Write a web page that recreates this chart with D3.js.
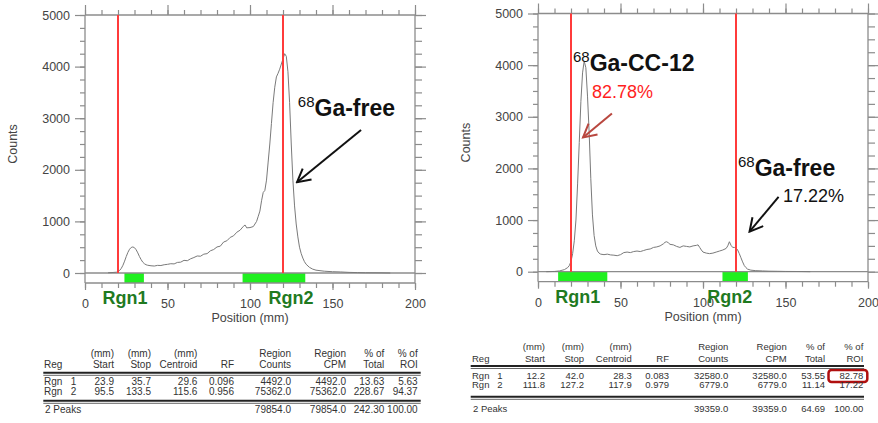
<!DOCTYPE html>
<html>
<head>
<meta charset="utf-8">
<script src="https://cdnjs.cloudflare.com/ajax/libs/d3/7.8.5/d3.min.js"></script>
<style>
body { margin: 0; background: #fff; }
svg text { font-family: "Liberation Sans", Arial, sans-serif; }
</style>
</head>
<body>
<div id="chart-area"></div>
<script>
// ---- data ----
var leftPos = [14, 17, 19, 20, 21, 22, 23, 24, 25, 26, 27, 28, 29, 30, 31, 32, 33, 34, 35, 36, 37, 38, 40, 42, 44, 46, 48, 50, 52, 54, 56, 58, 60, 62, 64, 66, 68, 70, 72, 74, 76, 78, 80, 82, 84, 86, 88, 90, 92, 94, 96, 97, 98, 100, 102, 104, 105, 106, 107, 108, 109, 110, 111, 112, 113, 114, 115, 116, 117, 118, 119, 120, 121, 122, 123, 124, 125, 126, 127, 128, 129, 130, 131, 132, 133, 134, 136, 138, 140, 145, 150, 155, 160, 165, 170, 180, 185];
var leftCounts = [5, 10, 15, 25, 50, 90, 150, 230, 320, 400, 460, 495, 505, 490, 450, 390, 320, 260, 210, 180, 160, 150, 140, 135, 148, 145, 160, 168, 180, 176, 205, 210, 245, 238, 275, 300, 330, 325, 365, 375, 430, 455, 505, 520, 600, 625, 690, 720, 790, 830, 905, 930, 875, 880, 900, 1000, 1100, 1200, 1400, 1560, 1600, 1800, 2150, 2500, 2900, 3300, 3600, 3800, 3870, 3950, 4050, 4150, 4250, 4200, 3900, 3300, 2500, 1800, 1300, 950, 700, 500, 380, 290, 220, 170, 110, 75, 55, 35, 25, 20, 12, 8, 5, 3, 0];

var rightPos = [5, 10, 13, 16, 18, 19, 20, 21, 22, 23, 24, 25, 26, 27, 28, 29, 30, 31, 32, 33, 34, 35, 36, 37, 38, 40, 42, 44, 46, 48, 50, 52, 54, 56, 58, 60, 62, 64, 66, 68, 70, 72, 74, 76, 77, 78, 79, 80, 82, 84, 86, 88, 90, 92, 94, 96, 97, 98, 99, 100, 102, 104, 106, 108, 110, 112, 114, 115, 116, 117, 118, 119, 120, 121, 122, 123, 124, 125, 126, 127, 129, 132, 136, 140, 145, 150, 160, 165];
var rightCounts = [0, 5, 15, 40, 80, 120, 200, 350, 600, 1000, 1700, 2500, 3300, 3850, 4080, 3950, 3400, 2700, 1800, 1100, 700, 500, 400, 360, 340, 330, 340, 325, 320, 310, 330, 370, 380, 370, 390, 400, 390, 410, 430, 440, 470, 480, 500, 540, 570, 580, 560, 530, 520, 490, 470, 500, 490, 480, 500, 510, 520, 470, 420, 380, 360, 350, 360, 380, 400, 420, 450, 500, 580, 510, 470, 470, 460, 420, 350, 270, 190, 120, 80, 50, 30, 20, 15, 10, 8, 5, 3, 0];

var markerLines = [20, 120];
var yTicks = [0, 1000, 2000, 3000, 4000, 5000];
var xTicks = [0, 50, 100, 150, 200];

var headTop = ["", "(mm)", "(mm)", "(mm)", "", "Region", "Region", "% of", "% of"];
var headBottom = ["Reg", "Start", "Stop", "Centroid", "RF", "Counts", "CPM", "Total", "ROI"];

var leftRows = [
    ["Rgn 1", 23.9, 35.7, 29.6, 0.096, 4492.0, 4492.0, 13.63, 5.63],
    ["Rgn 2", 95.5, 133.5, 115.6, 0.956, 75362.0, 75362.0, 228.67, 94.37]
];
var leftTotal = ["2 Peaks", null, null, null, null, 79854.0, 79854.0, 242.30, 100.00];

var rightRows = [
    ["Rgn 1", 12.2, 42.0, 28.3, 0.083, 32580.0, 32580.0, 53.55, 82.78],
    ["Rgn 2", 111.8, 127.2, 117.9, 0.979, 6779.0, 6779.0, 11.14, 17.22]
];
var rightTotal = ["2 Peaks", null, null, null, null, 39359.0, 39359.0, 64.69, 100.00];

var colFormats = [null, ".1f", ".1f", ".1f", ".3f", ".1f", ".1f", ".2f", ".2f"];

var svg = d3.select("#chart-area")
    .append("svg")
        .attr("width", 878)
        .attr("height", 423);

var defs = svg.append("defs");
function arrowMarker(id, color) {
    defs.append("marker")
        .attr("id", id)
        .attr("viewBox", "0 0 16 16")
        .attr("refX", 14)
        .attr("refY", 8)
        .attr("markerUnits", "userSpaceOnUse")
        .attr("markerWidth", 16)
        .attr("markerHeight", 16)
        .attr("orient", "auto")
        .append("path")
            .attr("d", "M1,1 L14,8 L1,15")
            .attr("fill", "none")
            .attr("stroke", color)
            .attr("stroke-width", 2);
}
arrowMarker("arrow-black", "#111");
arrowMarker("arrow-red", "#b9473f");

var frameColor = "#8c8c8c";

function styleAxis(sel) {
    sel.select(".domain").remove();
    sel.selectAll("line").attr("stroke", frameColor).attr("stroke-width", 1.2);
    sel.selectAll("text").attr("fill", "#444").attr("font-size", "12.5px")
        .attr("font-family", "'Liberation Sans', Arial, sans-serif");
}

function drawChart(cfg) {
    var x = d3.scaleLinear().domain([0, 200]).range(cfg.xRange);
    var y = d3.scaleLinear().domain([0, 5000]).range(cfg.yRange);
    var g = svg.append("g");
    var strip = y(0) + 10;
    var minorX = d3.range(0, 201, 10),
        minorY = d3.range(0, 5001, 250);

    // region bars
    g.selectAll("rect.rgn")
        .data(cfg.rows)
        .enter()
        .append("rect")
            .attr("class", "rgn")
            .attr("x", function(d){ return x(d[1]); })
            .attr("width", function(d){ return x(d[2]) - x(d[1]); })
            .attr("y", y(0))
            .attr("height", strip - y(0))
            .attr("fill", "#1ff01f");

    // ticks
    g.append("g").attr("transform", "translate(" + x(0) + ",0)")
        .call(d3.axisLeft(y).tickValues(minorY).tickSize(5).tickFormat(""))
        .call(styleAxis);
    g.append("g").attr("transform", "translate(" + x(0) + ",0)")
        .call(d3.axisLeft(y).tickValues(yTicks).tickSize(10).tickPadding(5).tickFormat(d3.format("d")))
        .call(styleAxis);
    g.append("g").attr("transform", "translate(" + x(200) + ",0)")
        .call(d3.axisRight(y).tickValues(minorY).tickSize(7).tickFormat(""))
        .call(styleAxis);
    g.append("g").attr("transform", "translate(" + x(200) + ",0)")
        .call(d3.axisRight(y).tickValues(yTicks).tickSize(11).tickFormat(""))
        .call(styleAxis);
    g.append("g").attr("transform", "translate(0," + y(5000) + ")")
        .call(d3.axisTop(x).tickValues(minorX).tickSize(5).tickFormat(""))
        .call(styleAxis);
    g.append("g").attr("transform", "translate(0," + y(5000) + ")")
        .call(d3.axisTop(x).tickValues(xTicks).tickSize(10).tickFormat(""))
        .call(styleAxis);
    g.append("g").attr("transform", "translate(0," + strip + ")")
        .call(d3.axisBottom(x).tickValues(minorX).tickSize(5).tickFormat(""))
        .call(styleAxis);
    g.append("g").attr("transform", "translate(0," + strip + ")")
        .call(d3.axisBottom(x).tickValues(xTicks).tickSize(7).tickPadding(9))
        .call(styleAxis);

    // frame
    var frame = [
        [0, 5000, 200, 5000], [0, 0, 200, 0],
        [0, 5000, 0, -1], [200, 5000, 200, -1], [0, -1, 200, -1]
    ];
    g.selectAll("line.frame")
        .data(frame)
        .enter()
        .append("line")
            .attr("x1", function(d){ return x(d[0]); })
            .attr("x2", function(d){ return x(d[2]); })
            .attr("y1", function(d){ return d[1] < 0 ? strip : y(d[1]); })
            .attr("y2", function(d){ return d[3] < 0 ? strip : y(d[3]); })
            .attr("stroke", frameColor)
            .attr("stroke-width", 1.3);

    // trace
    var line = d3.line()
        .x(function(d){ return x(d[0]); })
        .y(function(d){ return y(d[1]); });
    g.append("path")
        .datum(d3.zip(cfg.pos, cfg.counts))
        .attr("d", line)
        .attr("fill", "none")
        .attr("stroke", "#7a7a7a")
        .attr("stroke-width", 1);

    // origin / front markers
    g.selectAll("line.marker")
        .data(markerLines)
        .enter()
        .append("line")
            .attr("x1", function(d){ return x(d); })
            .attr("x2", function(d){ return x(d); })
            .attr("y1", y(5000))
            .attr("y2", y(0))
            .attr("stroke", "#ff3b3b")
            .attr("stroke-width", 2);

    // axis titles
    g.append("text")
        .attr("x", (x(0) + x(200)) / 2)
        .attr("y", strip + 39)
        .attr("text-anchor", "middle")
        .attr("font-size", "12.5px")
        .attr("fill", "#444")
        .text("Position (mm)");
    g.append("text")
        .attr("transform", "translate(" + (x(0) - 68) + "," + ((y(0) + y(5000)) / 2) + ") rotate(-90)")
        .attr("text-anchor", "middle")
        .attr("font-size", "12.5px")
        .attr("fill", "#444")
        .text("Counts");

    // region labels
    g.selectAll("text.rgnlabel")
        .data(cfg.rgnLabels)
        .enter()
        .append("text")
            .attr("x", function(d){ return x(d[1]); })
            .attr("y", strip + 21)
            .attr("text-anchor", "middle")
            .attr("font-family", "'Open Sans', sans-serif")
            .attr("font-weight", "bold")
            .attr("font-size", "18px")
            .attr("fill", "#1f7a1f")
            .text(function(d){ return d[0]; });

    // annotations
    cfg.notes.forEach(function(n){
        var t = g.append("text")
            .attr("x", x(n.at[0]))
            .attr("y", y(n.at[1]))
            .attr("font-family", "'Open Sans', sans-serif")
            .attr("fill", n.color || "#111");
        if (n.sup) {
            t.append("tspan").attr("font-size", "15px").attr("dy", -9).text(n.sup);
            t.append("tspan").attr("font-size", "23px").attr("font-weight", "bold").attr("dy", 9).text(n.text);
        } else {
            t.attr("font-size", "18px").text(n.text);
        }
    });
    cfg.arrows.forEach(function(a){
        g.append("line")
            .attr("x1", x(a.from[0])).attr("y1", y(a.from[1]))
            .attr("x2", x(a.to[0])).attr("y2", y(a.to[1]))
            .attr("stroke", a.color)
            .attr("stroke-width", 2)
            .attr("marker-end", "url(#" + a.marker + ")");
    });
}

function drawTable(cfg) {
    var g = svg.append("g").attr("font-size", cfg.size).attr("fill", "#333");
    function row(vals, yy, isHead, isRgn) {
        vals.forEach(function(v, i){
            if (v === null || v === "") return;
            var s = (isHead || i === 0) ? String(v) : d3.format(colFormats[i])(v);
            if (i === 0 && isRgn) s = s.replace(" ", "\u00a0\u00a0\u00a0");
            var t = g.append("text")
                .attr("x", i === 0 ? cfg.cols[0] + (vals === cfg.total ? 1 : 0) : cfg.cols[i])
                .attr("y", yy)
                .attr("text-anchor", i === 0 ? "start" : "end")
                .text(s);
            if (cfg.highlight && vals === cfg.rows[cfg.highlight[0]] && i === cfg.highlight[1]) {
                var b = t.node().getBBox();
                g.append("rect")
                    .attr("x", b.x - 11).attr("y", b.y + 0.5)
                    .attr("width", b.width + 15).attr("height", b.height + 1)
                    .attr("rx", 3)
                    .attr("fill", "none")
                    .attr("stroke", "#b00f0f")
                    .attr("stroke-width", 2.5);
            }
        });
    }
    row(headTop, cfg.ys[0], true);
    row(headBottom, cfg.ys[1], true);
    row(cfg.rows[0], cfg.ys[2], false, true);
    row(cfg.rows[1], cfg.ys[3], false, true);
    row(cfg.total, cfg.ys[4]);
    [[cfg.rules[0], 2, "#222"], [cfg.rules[0] + 2.5, 1, "#666"],
     [cfg.rules[1], 2, "#222"], [cfg.rules[1] + 2.5, 1, "#666"]].forEach(function(r){
        g.append("line")
            .attr("x1", cfg.span[0]).attr("x2", cfg.span[1])
            .attr("y1", r[0]).attr("y2", r[0])
            .attr("stroke", r[2]).attr("stroke-width", r[1]);
    });
}

drawChart({
    xRange: [85, 415], yRange: [273, 15],
    pos: leftPos, counts: leftCounts, rows: leftRows,
    rgnLabels: [["Rgn1", 24.2], ["Rgn2", 124.8]],
    notes: [{ sup: "68", text: "Ga-free", at: [129, 3040] }],
    arrows: [{ from: [167.3, 2770], to: [128.5, 1760], color: "#111", marker: "arrow-black" }]
});

drawChart({
    xRange: [538, 868], yRange: [271.7, 13.5],
    pos: rightPos, counts: rightCounts, rows: rightRows,
    rgnLabels: [["Rgn1", 24.1], ["Rgn2", 116.2]],
    notes: [
        { sup: "68", text: "Ga-CC-12", at: [21.2, 3880] },
        { text: "82.78%", at: [32.7, 3365], color: "#ff1e1e" },
        { sup: "68", text: "Ga-free", at: [121.2, 1855] },
        { text: "17.22%", at: [148.5, 1350], color: "#111" }
    ],
    arrows: [
        { from: [44.8, 3065], to: [27.3, 2600], color: "#b9473f", marker: "arrow-red" },
        { from: [145.8, 1450], to: [128.2, 775], color: "#111", marker: "arrow-black" }
    ]
});

drawTable({
    size: "10px",
    cols: [44, 114, 151, 197.3, 234, 291, 346, 384.3, 417.7],
    ys: [357.3, 368.3, 385.3, 395.3, 412.7],
    rules: [372.8, 400.8],
    span: [43.3, 420.7],
    rows: leftRows, total: leftTotal
});

drawTable({
    size: "9.5px",
    cols: [472, 545, 584, 631.7, 669, 728.3, 786.7, 825, 863.3],
    ys: [349.5, 361.5, 378.5, 388, 411.7],
    rules: [366, 396.8],
    span: [470.7, 864],
    rows: rightRows, total: rightTotal,
    highlight: [0, 8]
});
</script>
</body>
</html>
